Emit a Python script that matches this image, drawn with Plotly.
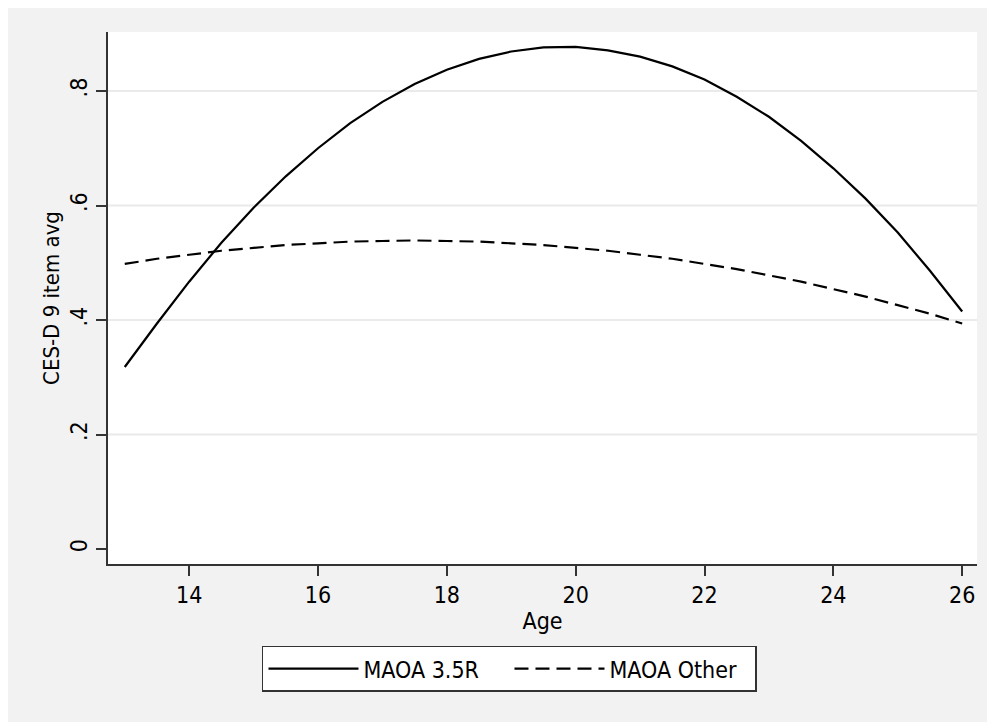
import plotly.graph_objects as go

age = [13, 13.5, 14, 14.5, 15, 15.5, 16, 16.5, 17, 17.5, 18, 18.5, 19, 19.5,
       20, 20.5, 21, 21.5, 22, 22.5, 23, 23.5, 24, 24.5, 25, 25.5, 26]
maoa_35r = [0.318, 0.394, 0.467, 0.535, 0.596, 0.651, 0.700, 0.744, 0.781, 0.812,
            0.837, 0.856, 0.869, 0.876, 0.877, 0.871, 0.860, 0.843, 0.820, 0.790,
            0.755, 0.713, 0.665, 0.612, 0.553, 0.486, 0.415]
maoa_other = [0.498, 0.507, 0.514, 0.521, 0.526, 0.531, 0.534, 0.537, 0.538, 0.539,
              0.538, 0.537, 0.534, 0.531, 0.526, 0.521, 0.514, 0.507, 0.498, 0.489,
              0.478, 0.467, 0.454, 0.441, 0.426, 0.411, 0.394]
x_ticks = [14, 16, 18, 20, 22, 24, 26]
y_ticks = [0, 0.2, 0.4, 0.6, 0.8]
y_tick_labels = ["0", ".2", ".4", ".6", ".8"]
grid_vals = [0.2, 0.4, 0.6, 0.8]

FONT = "Liberation Sans Narrow, DejaVu Sans Condensed, Liberation Sans, sans-serif"

fig = go.Figure()
fig.add_trace(go.Scatter(x=age, y=maoa_35r, mode="lines", name="MAOA 3.5R",
                         line=dict(color="black", width=2.2, dash="solid")))
fig.add_trace(go.Scatter(x=age, y=maoa_other, mode="lines", name="MAOA Other",
                         line=dict(color="black", width=2.2, dash="14px,7px")))

for g in grid_vals:
    fig.add_shape(type="line", xref="paper", yref="y", x0=0, x1=1.0, y0=g, y1=g,
                  line=dict(color="#eaeaea", width=2), layer="below")

fig.update_layout(
    width=987, height=714,
    margin=dict(l=100, r=18, t=24, b=158),
    paper_bgcolor="#f2f2f2",
    plot_bgcolor="white",
    font=dict(family=FONT, size=23, color="black"),
    showlegend=True,
    legend=dict(orientation="h", x=0.1772, y=-0.1536, xanchor="left", yanchor="top",
                bgcolor="white", bordercolor="#333333", borderwidth=1.5,
                font=dict(family=FONT, size=23, color="black"),
                entrywidth=141, entrywidthmode="pixels", itemwidth=90,
                traceorder="normal"),
    xaxis=dict(range=[12.74, 26.23], tickvals=x_ticks, ticks="outside", ticklen=10,
               tickwidth=1.5, tickcolor="#333333", showline=True, linecolor="#333333",
               linewidth=1.5, showgrid=False, zeroline=False, automargin=False,
               ticklabelstandoff=0,
               title=dict(text="Age", standoff=0, font=dict(size=23)),
               tickfont=dict(size=23)),
    yaxis=dict(range=[-0.026, 0.903], tickvals=y_ticks, ticktext=y_tick_labels,
               tickangle=-90, ticks="outside", ticklen=10, tickwidth=1.5,
               tickcolor="#333333", showline=True, linecolor="#333333", linewidth=1.5,
               showgrid=False, zeroline=False, automargin=False,
               ticklabelstandoff=0,
               title=dict(text="CES-D 9 item avg", standoff=0, font=dict(size=22)),
               tickfont=dict(size=23)),
)

fig.write_html("out.html")
